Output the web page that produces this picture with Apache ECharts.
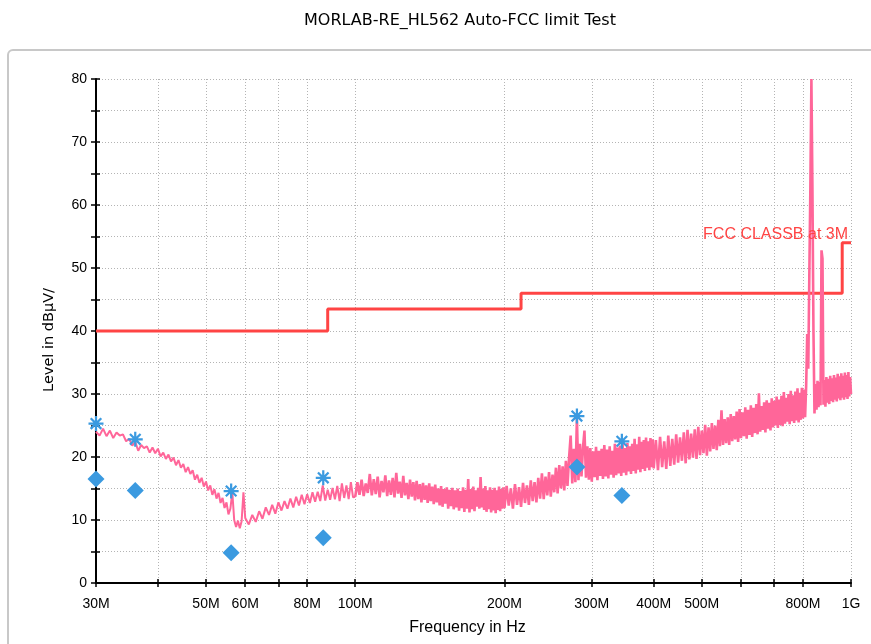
<!DOCTYPE html>
<html><head><meta charset="utf-8">
<script src="https://cdn.jsdelivr.net/npm/echarts@6/dist/echarts.min.js"></script>
<style>html,body{margin:0;padding:0;background:#fff}#chart{width:871px;height:644px}</style>
</head><body><div id="chart"></div>
<script>
const titleText = 'MORLAB-RE_HL562 Auto-FCC limit Test';
const xAxisName = 'Frequency in Hz';
const yAxisName = 'Level in dBµV/';
const xTickMHz = [30, 40, 50, 60, 70, 80, 100, 200, 300, 400, 500, 600, 700, 800, 1000];
const xLabelMHz = [30, 50, 60, 80, 100, 200, 300, 400, 500, 800, 1000];

const limitName = 'FCC CLASSB at 3M';
const limitFreqMHz = [30, 88, 216, 960, 1000];
const limitLevel = [40, 43.5, 46, 54];

const peakFreqMHz = [30, 36, 56.2, 86.2, 280, 345];
const peakLevel = [25.3, 22.8, 14.6, 16.7, 26.5, 22.5];
const finalFreqMHz = [30, 36, 56.2, 86.2, 280, 345];
const finalLevel = [16.5, 14.7, 4.8, 7.2, 18.4, 13.9];

// Sweep segments: start frequency, step (MHz), and measured levels (dBµV)
const traceA_startMHz = 30, traceA_stepMHz = 0.5;
const traceA = [24.0,23.4,24.5,23.3,24.2,23.0,23.9,23.4,23.6,22.5,
  22.9,21.8,22.4,21.0,21.9,21.4,21.7,20.7,21.5,20.6,
  21.3,20.1,20.7,19.7,20.4,19.3,19.9,18.7,19.5,18.3,
  18.9,17.6,18.4,17.3,17.9,16.4,17.2,15.9,16.7,15.3,
  16.1,14.7,15.5,14.0,14.9,13.4,14.3,12.7,13.5,11.9,
  12.8,10.9,11.8,14.4,10.0,8.9,9.9,8.7,9.8,14.4];
const traceB_startMHz = 60, traceB_stepMHz = 1;
const traceB = [10.3,9.3,10.8,9.7,11.4,10.2,12.0,10.8,12.4,11.0,
  12.8,11.5,13.0,11.8,13.4,12.0,13.7,12.3,14.0,12.5,
  14.1,12.7,14.4,12.9,14.5,13.0,15.5,13.1,14.8,13.2,
  15.1,13.3,15.4,13.0,15.8,13.5,15.5,13.3,16.0,13.6];
const traceC_startMHz = 100, traceC_stepMHz = 1;
const traceC = [13.7,16.0,14.0,16.4,13.8,15.8,14.3,17.3,13.9,16.5,
  14.1,16.9,13.6,16.2,14.4,17.1,13.8,16.3,14.0,16.7,
  13.6,17.5,14.2,16.1,13.5,17.0,13.9,15.9,13.3,16.4,
  13.7,16.0,13.1,16.2,13.3,15.7,12.8,15.9,13.2,15.5,
  12.7,15.8,13.0,15.3,12.5,15.6,12.8,15.0,12.3,15.4,
  12.1,14.9,12.6,15.2,11.8,14.8,12.2,15.1,11.7,14.7,
  12.0,15.0,11.5,14.6,11.9,15.2,11.3,14.8,11.8,16.5,
  11.2,14.9,11.7,15.3,11.4,14.7,12.1,15.1,11.8,16.8,
  12.0,15.0,11.6,15.4,11.3,14.7,11.7,15.2,11.2,14.8,
  11.5,15.1,11.1,14.7,11.6,15.3,11.4,14.9,11.8,15.2];
const traceD_startMHz = 200, traceD_stepMHz = 2;
const traceD = [11.9,15.4,12.3,15.0,11.8,15.7,12.4,15.2,12.1,15.9,
  12.7,15.5,12.4,16.3,13.0,16.0,12.8,16.7,13.4,17.4,
  13.3,16.9,13.9,17.6,13.7,17.2,14.4,18.3,14.2,18.7,
  15.0,18.5,14.7,19.4,15.4,19.9,23.4,15.8,21.3,16.0,
  26.2,16.3,22.1,16.9,21.5,24.2,16.7,21.7,16.4,21.4,
  16.1,20.9,16.8,21.6,16.3,21.0,17.0,21.3,16.5,21.9,
  16.9,21.2,16.6,21.7,17.2,21.0,16.7,22.1,17.1,21.5,
  17.4,21.8,17.0,22.5,17.5,21.4,17.1,22.2,17.7,21.7,
  17.3,22.1,17.8,22.9,17.4,22.0,18.0,23.2,17.6,22.4,
  18.1,22.7,17.8,23.1,18.3,22.5,17.9,23.0,18.4,22.8];
const traceE_startMHz = 400, traceE_stepMHz = 4;
const traceE = [18.2,22.7,17.9,23.2,18.4,22.5,18.1,23.4,18.6,22.9,
  18.8,23.6,19.1,23.1,19.4,23.9,19.0,24.3,19.6,23.7,
  19.9,24.4,19.7,24.8,20.3,24.2,20.6,25.1,20.2,24.7,
  20.9,25.4,21.3,25.0,21.1,25.9,21.7,27.4,21.9,26.0,
  22.2,26.3,21.9,26.8,22.5,26.5,22.8,27.2,22.4,27.6,
  23.0,27.1,23.3,27.9,22.9,27.5,23.5,28.2,23.2,27.8,
  23.8,28.4,23.6,30.1,24.0,28.1,24.3,28.7,23.9,29.0,
  24.5,28.6,24.2,29.3,24.7,28.9,25.0,29.6,24.6,29.1,
  25.1,29.7,24.9,30.3,25.3,29.4,25.6,30.0,25.2,30.5,
  25.7,29.8,25.4,30.4,25.8,30.9,25.5,30.2,25.9,31.0,
  26.1,30.7,26.3,31.3,39.5,34.0,48.8,62.7,80.0,62.5,
  40.0,26.9,31.6,27.5,32.1,27.9,31.9,28.2,52.8,51.5,
  28.3,32.2,28.0,32.7,28.6,32.4,28.4,32.9,28.9,32.5,
  28.7,33.0,29.1,32.6,28.8,33.2,29.3,32.8,29.0,33.3,
  29.4,32.9,29.1,33.4,29.5,33.0,29.2,33.5,29.6,32.7,
  30.0];

const lg = Math.log10;
function sweep(start, step, levels) {
  return levels.map((v, i) => [lg(start + i * step), v]);
}
const bandC = sweep(traceC_startMHz, traceC_stepMHz, traceC);
// low band (thin noisy line), joined to the first point of the dense band
const traceLowData = [].concat(
  sweep(traceA_startMHz, traceA_stepMHz, traceA),
  sweep(traceB_startMHz, traceB_stepMHz, traceB),
  [bandC[0]]
);
const traceHighData = [].concat(
  bandC,
  sweep(traceD_startMHz, traceD_stepMHz, traceD),
  sweep(traceE_startMHz, traceE_stepMHz, traceE)
);
const limitData = [];
for (let i = 0; i < limitLevel.length; i++) {
  limitData.push([lg(limitFreqMHz[i]), limitLevel[i]]);
  limitData.push([lg(limitFreqMHz[i + 1]), limitLevel[i]]);
}
const limitEnd = limitData[limitData.length - 1];

const xMin = lg(limitFreqMHz[0]), xMax = lg(limitFreqMHz[limitFreqMHz.length - 1]);
const FONT = 'Liberation Sans';
const blue = '#3b9ae0';
const pink = '#ff6699';
const starPath = 'path://M-1.5,-10L1.5,-10L1.5,10L-1.5,10Z M-10,-1.5L10,-1.5L10,1.5L-10,1.5Z M-8.13,-6.01L-6.01,-8.13L8.13,6.01L6.01,8.13Z M-6.01,8.13L-8.13,6.01L6.01,-8.13L8.13,-6.01Z';

const chart = echarts.init(document.getElementById('chart'), null, { renderer: 'canvas' });
chart.setOption({
  animation: false,
  backgroundColor: '#fff',
  title: { text: titleText, left: 455, textAlign: 'center', top: 8,
    textStyle: { fontSize: 16, fontWeight: 'normal', color: '#000', fontFamily: 'DejaVu Sans' } },
  graphic: [{ type: 'rect', silent: true, z: -10,
    shape: { x: 8, y: 50, width: 900, height: 640, r: 5 },
    style: { fill: 'none', stroke: '#c8c8c8', lineWidth: 2 } }],
  grid: { left: 96, right: 20, top: 79, bottom: 61 },
  xAxis: [{
    type: 'value', min: xMin, max: xMax,
    name: xAxisName, nameLocation: 'middle', nameGap: 37,
    nameTextStyle: { fontSize: 16, color: '#000', fontFamily: FONT, padding: [0, 12, 0, 0] },
    axisLine: { show: true, lineStyle: { color: '#000', width: 2 } },
    axisTick: { show: true, length: 4, customValues: xTickMHz.map(lg), lineStyle: { color: '#000', width: 1.5 } },
    axisLabel: { show: true, margin: 14, fontSize: 14, color: '#000', fontFamily: FONT,
      customValues: xLabelMHz.map(lg),
      formatter: v => { const f = Math.round(Math.pow(10, v)); return f >= 1000 ? (f / 1000) + 'G' : f + 'M'; } },
    splitLine: { show: true, lineStyle: { color: '#b4b4b4', type: [1, 2], width: 1 } }
  }, {
    type: 'value', min: xMin, max: xMax, position: 'bottom',
    axisLine: { show: false },
    axisTick: { show: true, inside: true, length: 4, customValues: xTickMHz.map(lg), lineStyle: { color: '#000', width: 1.5 } },
    axisLabel: { show: false }, splitLine: { show: false }
  }],
  yAxis: [{
    type: 'value', min: 0, max: 80, interval: 5,
    name: yAxisName, nameLocation: 'middle', nameGap: 39,
    nameTextStyle: { fontSize: 14.5, color: '#000', fontFamily: 'DejaVu Sans', padding: [0, 18, 0, 0] },
    axisLine: { show: true, lineStyle: { color: '#000', width: 2 } },
    axisTick: { show: true, length: 5, lineStyle: { color: '#000', width: 1.5 } },
    axisLabel: { margin: 9, fontSize: 14, color: '#000', fontFamily: FONT,
      formatter: v => (v % 10 === 0 ? String(v) : '') },
    splitLine: { show: true, lineStyle: { color: '#b4b4b4', type: [1, 2], width: 1 } }
  }, {
    type: 'value', min: 0, max: 80, interval: 5, position: 'left',
    axisLine: { show: false },
    axisTick: { show: true, inside: true, length: 4, lineStyle: { color: '#000', width: 1.5 } },
    axisLabel: { show: false }, splitLine: { show: false }
  }],
  series: [{
    name: 'limit', type: 'line', data: limitData, symbol: 'none', z: 2,
    lineStyle: { color: '#ff4444', width: 3 }, itemStyle: { color: '#ff4444' },
    markPoint: {
      symbol: 'circle', symbolSize: 1, silent: true,
      itemStyle: { color: 'rgba(0,0,0,0)' },
      data: [{ coord: limitEnd, label: {
        show: true, formatter: limitName, position: 'top', align: 'right', distance: 3, offset: [-3, 3],
        color: '#ff4444', fontSize: 16, fontFamily: FONT } }]
    }
  }, {
    name: 'trace', type: 'line', data: traceLowData, symbol: 'none', z: 3,
    lineStyle: { color: pink, width: 2 }, itemStyle: { color: pink }
  }, {
    name: 'trace', type: 'line', data: traceHighData, symbol: 'none', z: 3,
    lineStyle: { color: pink, width: 2.6 }, itemStyle: { color: pink }
  }, {
    name: 'peak', type: 'scatter', z: 5, symbol: starPath, symbolSize: 15,
    data: peakFreqMHz.map((f, i) => [lg(f), peakLevel[i]]),
    itemStyle: { color: blue, opacity: 1 }
  }, {
    name: 'final', type: 'scatter', z: 4, symbol: 'diamond', symbolSize: 17,
    data: finalFreqMHz.map((f, i) => [lg(f), finalLevel[i]]),
    itemStyle: { color: blue, opacity: 1 }
  }]
});
</script></body></html>
